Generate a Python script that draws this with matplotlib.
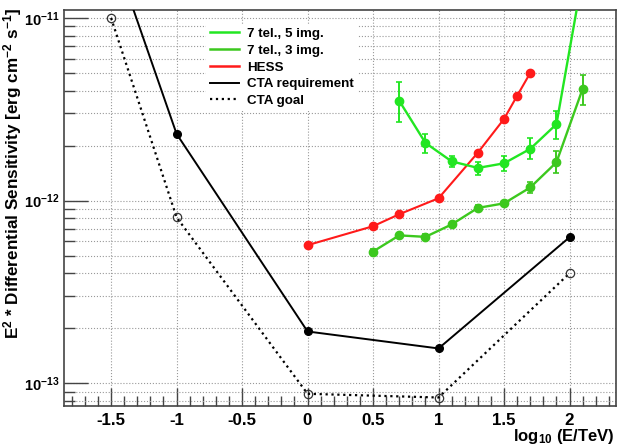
import numpy as np
import matplotlib
matplotlib.use("Agg")
import matplotlib.pyplot as plt
from matplotlib.lines import Line2D
from matplotlib.ticker import LogLocator, NullFormatter, MultipleLocator

plt.rcParams['font.family'] = ['Liberation Sans', 'DejaVu Sans']
plt.rcParams['font.weight'] = 'bold'
plt.rcParams['mathtext.fontset'] = 'custom'
plt.rcParams['mathtext.rm'] = 'Liberation Sans:bold'
plt.rcParams['mathtext.bf'] = 'Liberation Sans:bold'
plt.rcParams['mathtext.it'] = 'Liberation Sans:bold'

# log10(E/TeV) and E^2 dN/dE sensitivity values
cta_x = [-1.5, -1.0, 0.0, 1.0, 2.0]
cta_req = [2.5e-11, 2.32e-12, 1.92e-13, 1.55e-13, 6.3e-13]
cta_goal = [1.0e-11, 8.1e-13, 8.75e-14, 8.35e-14, 4.0e-13]

hess_x = [0.0, 0.5, 0.7, 1.0, 1.3, 1.5, 1.6, 1.7]
hess = [5.7e-13, 7.24e-13, 8.42e-13, 1.03e-12, 1.83e-12, 2.8e-12, 3.75e-12, 5.0e-12]

img5_x = [0.7, 0.9, 1.1, 1.3, 1.5, 1.7, 1.9, 2.1]
img5 = [3.52e-12, 2.07e-12, 1.64e-12, 1.51e-12, 1.60e-12, 1.92e-12, 2.62e-12, 1.7e-11]
img5_lo = [2.68e-12, 1.82e-12, 1.53e-12, 1.38e-12, 1.45e-12, 1.70e-12, 2.18e-12, 1.45e-11]
img5_hi = [4.45e-12, 2.32e-12, 1.76e-12, 1.62e-12, 1.75e-12, 2.19e-12, 3.08e-12, 2.0e-11]

img3_x = [0.5, 0.7, 0.9, 1.1, 1.3, 1.5, 1.7, 1.9, 2.1]
img3 = [5.26e-13, 6.45e-13, 6.33e-13, 7.4e-13, 9.12e-13, 9.66e-13, 1.18e-12, 1.62e-12, 4.09e-12]
img3_lo = [5.1e-13, 6.25e-13, 6.13e-13, 7.15e-13, 8.8e-13, 9.3e-13, 1.10e-12, 1.41e-12, 3.33e-12]
img3_hi = [5.4e-13, 6.65e-13, 6.53e-13, 7.65e-13, 9.45e-13, 1.0e-12, 1.27e-12, 1.86e-12, 4.88e-12]

labels = ['7 tel., 5 img.', '7 tel., 3 img.', 'HESS', 'CTA requirement', 'CTA goal']
c5 = '#22e622'
c3 = '#3cc81e'
cred = '#ff1a1a'

fig = plt.figure(figsize=(6.18, 4.45), dpi=100)
ax = fig.add_axes([0.1028, 0.0876, 0.894, 0.8899])

ax.set_yscale('log')
ax.set_xlim(-1.863, 2.355)
ax.set_ylim(7.5e-14, 1.106e-11)

# grid: dotted, y at every minor decade step, x at 0.5 steps
ax.xaxis.set_major_locator(MultipleLocator(0.5))
ax.xaxis.set_minor_locator(MultipleLocator(0.1))
ax.yaxis.set_major_locator(LogLocator(base=10))
ax.yaxis.set_minor_locator(LogLocator(base=10, subs=np.arange(2, 10)))
ax.yaxis.set_minor_formatter(NullFormatter())
ax.grid(True, axis='x', which='major', ls=':', color='#999999', lw=0.8)
ax.grid(True, axis='y', which='both', ls=':', color='#999999', lw=0.8)
ax.set_axisbelow(True)

ax.set_yticks([1e-13, 1e-12, 1e-11],
              labels=[r'$\mathbf{10^{-13}}$', r'$\mathbf{10^{-12}}$', r'$\mathbf{10^{-11}}$'])
ax.set_xticks([-1.5, -1, -0.5, 0, 0.5, 1, 1.5, 2],
              labels=['-1.5', '-1', '-0.5', '0', '0.5', '1', '1.5', '2'])
ax.tick_params(axis='both', which='both', direction='in', top=False, right=False,
               color='#444444', width=1.0)
ax.tick_params(axis='y', which='major', length=17, pad=3, labelsize=10.5)
ax.tick_params(axis='y', which='minor', length=8)
ax.tick_params(axis='x', which='major', length=13, pad=5, labelsize=12.2)
ax.tick_params(axis='x', which='minor', length=7)
for lab in ax.get_xticklabels():
    lab.set_fontweight('bold')
for sp in ax.spines.values():
    sp.set_color('#444444')
    sp.set_linewidth(1.2)

# curves
ax.plot(cta_x, cta_goal, ls=':', color='black', lw=1.6, marker='o', ms=6,
        mfc='none', mec='#333333', mew=0.9, zorder=3)
ax.plot(cta_x, cta_req, ls='-', color='black', lw=1.4, marker='o', ms=5.5, zorder=3)
ax.plot(hess_x, hess, ls='-', color=cred, lw=1.5, marker='o', ms=6, zorder=4)

e5 = [np.array(img5) - np.array(img5_lo), np.array(img5_hi) - np.array(img5)]
ax.errorbar(img5_x, img5, yerr=e5, color=c5, lw=1.7, marker='o', ms=6,
            capsize=2.5, elinewidth=1.4, capthick=1.2, zorder=5)
e3 = [np.array(img3) - np.array(img3_lo), np.array(img3_hi) - np.array(img3)]
ax.errorbar(img3_x, img3, yerr=e3, color=c3, lw=1.7, marker='o', ms=6,
            capsize=2.5, elinewidth=1.4, capthick=1.2, zorder=5)

handles = [Line2D([], [], color=c5, lw=1.8),
           Line2D([], [], color=c3, lw=1.8),
           Line2D([], [], color=cred, lw=1.8),
           Line2D([], [], color='black', lw=1.4),
           Line2D([], [], color='black', lw=1.6, ls=':')]
leg = ax.legend(handles, labels, loc='upper left', bbox_to_anchor=(0.245, 0.982),
                fontsize=9.6, frameon=True, fancybox=False, edgecolor='none',
                facecolor='white', framealpha=1.0, handlelength=2.2,
                handletextpad=0.6, labelspacing=0.33, borderpad=0.3)
for t in leg.get_texts():
    t.set_fontweight('bold')
leg.set_zorder(10)

fig.text(0.02, 0.982, r'E$^{2}$ * Differential Sensitivity [erg cm$^{-2}$ s$^{-1}$]',
         rotation=90, ha='center', va='top', fontsize=12.3, fontweight='bold')
fig.text(0.995, 0.01, r'log$_{10}$ (E/TeV)', ha='right', va='baseline',
         fontsize=12, fontweight='bold')

fig.savefig('out.png', dpi=100)
